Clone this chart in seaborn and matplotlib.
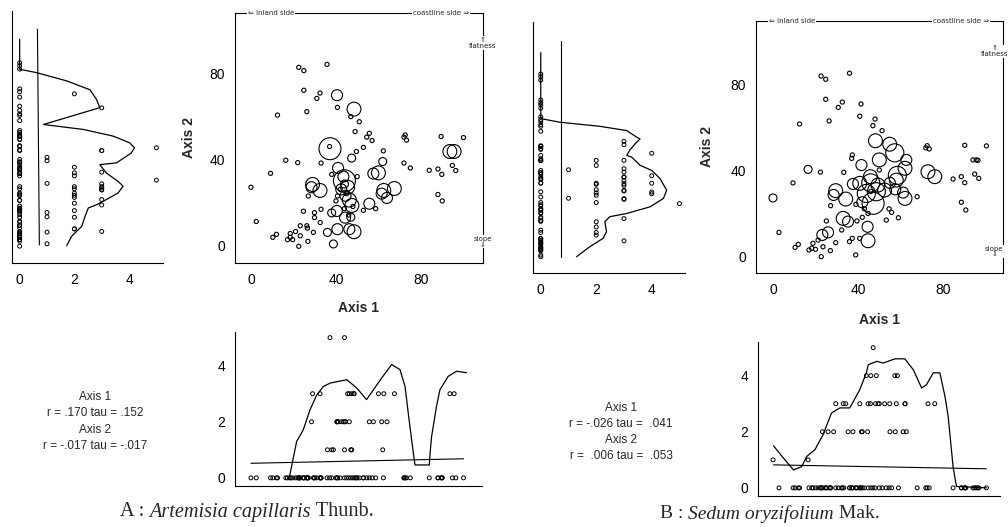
import numpy as np
import pandas as pd
import seaborn as sns
import matplotlib.pyplot as plt

sns.set_style("white")
plt.rcParams['font.family'] = ['Liberation Sans', 'DejaVu Sans']

W, H = 1008, 527

# ========= A : Artemisia capillaris =========
# plots where the species is absent (abundance 0)
a_zero_x = [0, 2.5, 10.3, 12, 12.5, 9.2, 16.4, 22, 22.5, 24.9, 24.9, 26.3, 31, 32.5, 35.8, 37, 33, 40.7, 47, 49,
            51, 54.5, 55.7, 57, 52.9, 49.6, 62.3, 72, 72.6, 73.2, 72, 75, 83.9, 88, 89.8, 89.5, 100, 94.8, 96.4, 88,
            90, 58.7, 52.9, 17.2, 18.5, 19.6, 21, 18.5, 23.2, 23.2, 22.5, 24.7, 26.3, 26.6, 26.8, 27, 29.4, 29.9, 29.9, 32.6,
            33, 40, 40.7, 38, 44, 46, 50, 45, 42, 48]
a_zero_y = [27, 11, 3.6, 5, 60.7, 33.5, 39.6, 38.5, 83, 81.5, 72.3, 62.3, 68.5, 71, 84.4, 46, 38.3, 64.3, 60, 53,
            57.6, 50.4, 52.2, 48.8, 45.6, 43.7, 44, 50.4, 51.4, 49, 38.3, 36, 34.9, 35.5, 33, 50.7, 50.2, 37.2, 34.8, 23.6,
            20.6, 17, 16.2, 2.5, 3.6, 2.5, 6.3, 5.4, 9, 4.3, -0.6, 15.8, 9, 7.9, 1.7, 22.9, 5.9, 15.1, 12.8, 10.5,
            16.7, 20.6, 22.9, 33, 17, 14, 32, 24, 26, 18]
# plots where it occurs, with abundance class
a_occ_x = [40.5, 48.5, 37.2, 44, 41, 47.4, 29, 32.5, 45.5, 46.3, 47.5, 48.5, 60, 62.5, 67.5, 93.6, 95.6,
           28.5, 43.5, 42.5, 44.5, 40.4, 44.3, 46.3, 55.7, 57.6, 61.5, 64, 38, 36, 38.8, 44, 47, 40.7, 62]
a_occ_y = [70, 63.5, 45, 30, 36, 40.6, 28.3, 25.5, 27, 21, 18.5, 6.2, 33.7, 25.5, 26.4, 43.7, 43.7,
           27, 32, 26, 23, 15.9, 12.8, 7.4, 19.3, 33.4, 24, 22, 15, 5.9, 0.5, 28.5, 13, 7.4, 39]
a_occ_ab = [2, 3, 5, 5, 2, 1, 3, 3, 3, 3, 3, 3, 3, 3, 3, 3, 3,
            2, 2, 2, 2, 2, 2, 2, 2, 2, 2, 2, 1, 1, 1, 1, 1, 2, 1]
# smoothed abundance along axis 2 (left panel) and axis 1 (bottom panel)
a_vcurve_ab = [0, 0, 0.63, 1.72, 2.57, 2.81, 2.93, 0.87, 2.33, 3.42, 4.02, 4.2, 4.08, 3.54, 2.93, 3.17, 3.6,
               3.78, 3.6, 3.17, 2.81, 2.51, 2.39, 2.27, 1.9, 1.72]
a_vcurve_y = [95.3, 81.4, 79.8, 76, 71.9, 67.4, 63.6, 55.8, 53.5, 50.4, 47.3, 45, 42.6, 38, 37.2, 33.3, 29.4,
              27.2, 24.1, 21, 18.6, 17.1, 13.2, 8.6, 4, -0.4]
a_vreg_ab = [0.65, 0.72]
a_vreg_y = [100, 0]
a_hcurve_x = [18, 19.1, 21.5, 24.6, 27.8, 31, 34.1, 37.3, 45.1, 49.8, 54.4, 57.6, 61.5, 66.2, 70.1, 72.5, 74,
              76.4, 77.2, 83.9, 84.3, 85, 87.3, 88.9, 92.8, 96.7, 101.4]
a_hcurve_ab = [0, 0.4, 1.3, 1.71, 2.43, 2.96, 3.26, 3.38, 3.5, 3.2, 2.79, 3.14, 3.56, 4.04, 3.86, 3.26, 2.31,
               0.88, 0.46, 0.46, 0.9, 1.48, 2.55, 3.14, 3.62, 3.8, 3.75]
a_hreg_x = [0, 100]
a_hreg_ab = [0.52, 0.68]
a_stats = ["Axis 1", "r = .170 tau = .152", "Axis 2", "r = -.017 tau = -.017"]

# ========= B : Sedum oryzifolium =========
b_zero_x = [2.8, 10.4, 11.9, 12.5, 9.4, 22.3, 22.6, 24.8, 24.8, 26.4, 30.7, 32.6, 36, 37.3, 37, 33.3, 41.4, 40.8,
            47, 48, 51.3, 72.5, 71.9, 73.5, 84.7, 88.6, 90.2, 90.2, 100.4, 94.1, 95.6, 96.4, 94.9, 96.8, 88.6, 90.7,
            67.8, 59, 53.3, 54.6, 55.8, 16.9, 18.2, 20, 18.8, 21.2, 23.5, 22.7, 25.1, 27, 27.1, 29.5, 32.3, 37.3,
            38.9, 39.5, 36, 40.8, 44.7, 42, 43, 46, 39, 50]
b_zero_y = [11, 4, 5.4, 61.4, 34, 39, 83.7, 82.2, 72.9, 62.8, 69.1, 71.6, 85, 47, 45.4, 38.9, 70.7, 65,
            60.6, 63.7, 58.3, 51.3, 50.3, 49.8, 35.8, 36.9, 34.1, 51.5, 51.2, 44.7, 44.7, 44.5, 38.1, 36.1, 25, 21.4,
            27.6, 17.8, 16.7, 21.9, 20.3, 2.8, 3.6, 3.1, 5.9, 7.4, 4.3, -0.3, 16.3, 2.5, 23.4, 6.2, 12.1, 8.2,
            0.5, 16.3, 6.7, 8.2, 19.8, 18, 22, 30, 24, 40]
b_occ_x = [0, 16.5, 23.2, 25.9, 28.5, 35.3, 37.6, 41.6, 42, 44.5, 55, 57.5, 61.2, 62.7, 29.5, 34.2, 33, 40.8,
           45.8, 44.7, 48.2, 54.9, 58, 62.1, 72.9, 76.1, 49.4, 52.5, 62.1, 50, 43.9, 48.6, 46, 58.5, 57.3, 47.1]
b_occ_y = [27, 40.3, 9.8, 11, 28.4, 16, 33.5, 42.3, 25, 13.6, 34, 31, 29.5, 44.7, 30.4, 26.5, 17.5, 33.8,
           36.9, 7.1, 53.6, 52, 35.3, 40.8, 39.2, 36.9, 33, 30.7, 26.8, 44.7, 29.1, 29.9, 34, 37.5, 48, 24.5]
b_occ_ab = [1, 1, 2, 2, 2, 2, 2, 2, 2, 2, 2, 2, 2, 2, 3, 3, 3, 3,
            3, 3, 3, 3, 3, 3, 3, 3, 3, 3, 3, 3, 4, 4, 4, 4, 4, 5]
b_vcurve_ab = [0, 0, 0.08, 0.69, 2.13, 3.1, 3.46, 3.58, 3.4, 3.2, 3.1, 3.28, 3.58, 4.0, 4.3, 4.54, 4.42,
               3.94, 3.1, 2.49, 2.31, 2.37, 2.25, 1.77, 1.29]
b_vcurve_y = [95, 64.8, 64, 62.5, 60.6, 58.6, 55.5, 54.7, 52.4, 49.3, 47, 46.2, 42.4, 40, 36.2, 30.7, 26.9,
              23, 19.9, 18.4, 16, 11.4, 8.3, 4.4, -0.3]
b_vreg_ab = [0.72, 0.72]
b_vreg_y = [100.5, -0.3]
b_hcurve_x = [0.2, 4.9, 9.6, 13.5, 15.8, 19.7, 23.5, 27.5, 31.4, 36.1, 40.8, 43.9, 44.8, 48.8, 51.9, 57.3, 62,
              66, 69.9, 72.2, 75.4, 78.5, 80.9, 82.4, 84.7, 86.3, 100.4]
b_hcurve_ab = [1.5, 1.06, 0.64, 0.76, 1.12, 1.36, 1.89, 2.67, 2.85, 2.85, 3.5, 4.1, 4.39, 4.51, 4.45, 4.6, 4.6,
               4.21, 3.56, 3.68, 4.1, 4.1, 3.26, 2.55, 0.76, 0.05, 0]
b_hreg_x = [0.2, 100.4]
b_hreg_ab = [0.82, 0.68]
b_stats = ["Axis 1", "r = -.026 tau =  .041", "Axis 2", "r =  .006 tau =  .053"]

# circle area (pt^2) for each abundance class
circle_sizes = {0: 9, 1: 33, 2: 63, 3: 100, 4: 170, 5: 250}

fig = plt.figure(figsize=(W / 100, H / 100), dpi=100)


def px_axes(l, t, r, b):
    # axes from pixel box (left, top, right, bottom)
    return fig.add_axes([l / W, 1 - b / H, (r - l) / W, (b - t) / H])


def style_ax(ax):
    for s in ax.spines.values():
        s.set_linewidth(0.8)
        s.set_color("black")
    ax.tick_params(direction="out", length=3, width=0.7, pad=4, labelsize=10, colors="black")


def draw_species(zx, zy, ox, oy, oab, vc_ab, vc_y, vr_ab, vr_y, hc_x, hc_ab, hr_x, hr_ab,
                 box_left, box_scat, box_bot, xlim_left, ylim_main, xlim_main, xlim_bot, ylab_pad, xlab_pad,
                 side_x=1.0):
    df = pd.DataFrame({"axis1": zx + ox, "axis2": zy + oy, "abund": [0] * len(zx) + oab})

    # ---- left: abundance vs axis 2 ----
    axl = px_axes(*box_left)
    sns.scatterplot(data=df, x="abund", y="axis2", s=8, color="none", edgecolor="black",
                    linewidth=0.7, legend=False, ax=axl)
    sns.lineplot(x=vc_ab, y=vc_y, sort=False, estimator=None, color="black", linewidth=0.9, ax=axl)
    sns.lineplot(x=vr_ab, y=vr_y, sort=False, estimator=None, color="black", linewidth=0.8, ax=axl)
    axl.set_xlim(*xlim_left)
    axl.set_ylim(*ylim_main)
    axl.set_xticks([0, 1, 2, 3, 4, 5])
    axl.set_xticklabels(["0", "", "2", "", "4", ""])
    axl.set_yticks([])
    axl.set_xlabel("")
    axl.set_ylabel("")
    sns.despine(ax=axl)
    style_ax(axl)

    # ---- main ordination scatter ----
    ax = px_axes(*box_scat)
    sns.scatterplot(data=df, x="axis1", y="axis2", size="abund", sizes=circle_sizes, color="none",
                    edgecolor="black", linewidth=0.8, legend=False, ax=ax)
    ax.set_xlim(*xlim_main)
    ax.set_ylim(*ylim_main)
    ax.set_xticks([0, 20, 40, 60, 80, 100])
    ax.set_xticklabels(["0", "", "40", "", "80", ""])
    ax.set_yticks([0, 20, 40, 60, 80, 100])
    ax.set_yticklabels(["0", "", "40", "", "80", ""])
    ax.set_xlabel("Axis 1", fontweight="bold", fontsize=10, labelpad=xlab_pad)
    ax.set_ylabel("Axis 2", fontweight="bold", fontsize=10, labelpad=ylab_pad)
    style_ax(ax)
    bb = dict(facecolor="white", edgecolor="none", pad=0.6)
    ax.text(0.145, 1.0, "\u21d0 inland side", transform=ax.transAxes, fontsize=5, ha="center",
            va="center", bbox=bb, family=["DejaVu Sans"])
    ax.text(0.83, 1.0, "coastline side \u21d2", transform=ax.transAxes, fontsize=5, ha="center",
            va="center", bbox=bb, family=["DejaVu Sans"])
    ax.text(side_x, 0.88, "\u21d1\nflatness", transform=ax.transAxes, fontsize=5, ha="center",
            va="center", bbox=bb, linespacing=0.9, family=["DejaVu Sans"], clip_on=False)
    ax.text(side_x, 0.085, "slope\n\u21d3", transform=ax.transAxes, fontsize=5, ha="center",
            va="center", bbox=bb, linespacing=0.9, family=["DejaVu Sans"], clip_on=False)

    # ---- bottom: abundance vs axis 1 ----
    axb = px_axes(*box_bot)
    sns.scatterplot(data=df, x="axis1", y="abund", s=8, color="none", edgecolor="black",
                    linewidth=0.7, legend=False, ax=axb)
    sns.lineplot(x=hc_x, y=hc_ab, sort=False, estimator=None, color="black", linewidth=0.9, ax=axb)
    sns.lineplot(x=hr_x, y=hr_ab, sort=False, estimator=None, color="black", linewidth=0.8, ax=axb)
    axb.set_xlim(*xlim_bot)
    axb.set_ylim(-0.29, 5.2)
    axb.set_xticks([0, 20, 40, 60, 80, 100])
    axb.set_xticklabels([])
    axb.set_yticks([0, 1, 2, 3, 4, 5])
    axb.set_yticklabels(["0", "", "2", "", "4", ""])
    axb.set_xlabel("")
    axb.set_ylabel("")
    sns.despine(ax=axb)
    style_ax(axb)


draw_species(a_zero_x, a_zero_y, a_occ_x, a_occ_y, a_occ_ab,
             a_vcurve_ab, a_vcurve_y, a_vreg_ab, a_vreg_y,
             a_hcurve_x, a_hcurve_ab, a_hreg_x, a_hreg_ab,
             box_left=(12, 11, 163, 263), box_scat=(235, 13, 483, 263), box_bot=(235, 332, 482, 486),
             xlim_left=(-0.28, 5.24), ylim_main=(-8.4, 108.4), xlim_main=(-7.5, 109.2),
             xlim_bot=(-7.5, 108.7), ylab_pad=10, xlab_pad=10)

draw_species(b_zero_x, b_zero_y, b_occ_x, b_occ_y, b_occ_ab,
             b_vcurve_ab, b_vcurve_y, b_vreg_ab, b_vreg_y,
             b_hcurve_x, b_hcurve_ab, b_hreg_x, b_hreg_ab,
             box_left=(533, 22, 685, 273), box_scat=(756, 21, 1003, 273), box_bot=(758, 342, 1000, 496),
             xlim_left=(-0.28, 5.2), ylim_main=(-7.9, 109.3), xlim_main=(-8, 108.2),
             xlim_bot=(-7.1, 106.8), ylab_pad=12, xlab_pad=12, side_x=0.965)

# correlation summaries
for i, line in enumerate(a_stats):
    fig.text(95 / W, 1 - (397 + 16.3 * i) / H, line, ha="center", va="center", fontsize=8.5)
for i, line in enumerate(b_stats):
    fig.text(621 / W, 1 - (408 + 16 * i) / H, line, ha="center", va="center", fontsize=8.5)

# captions with italic species names
renderer = fig.canvas.get_renderer()


def caption(x_px, y_px, parts, size):
    x = x_px
    for txt, style in parts:
        t = fig.text(x / W, 1 - y_px / H, txt, fontsize=size, style=style, va="center",
                     family=["Liberation Serif", "DejaVu Serif"])
        x = t.get_window_extent(renderer=renderer).x1


caption(120, 512, [("A : ", "normal"), ("Artemisia capillaris", "italic"), (" Thunb.", "normal")], 14.6)
caption(660, 514, [("B : ", "normal"), ("Sedum oryzifolium", "italic"), (" Mak.", "normal")], 14.0)

fig.savefig("out.png", dpi=100)
